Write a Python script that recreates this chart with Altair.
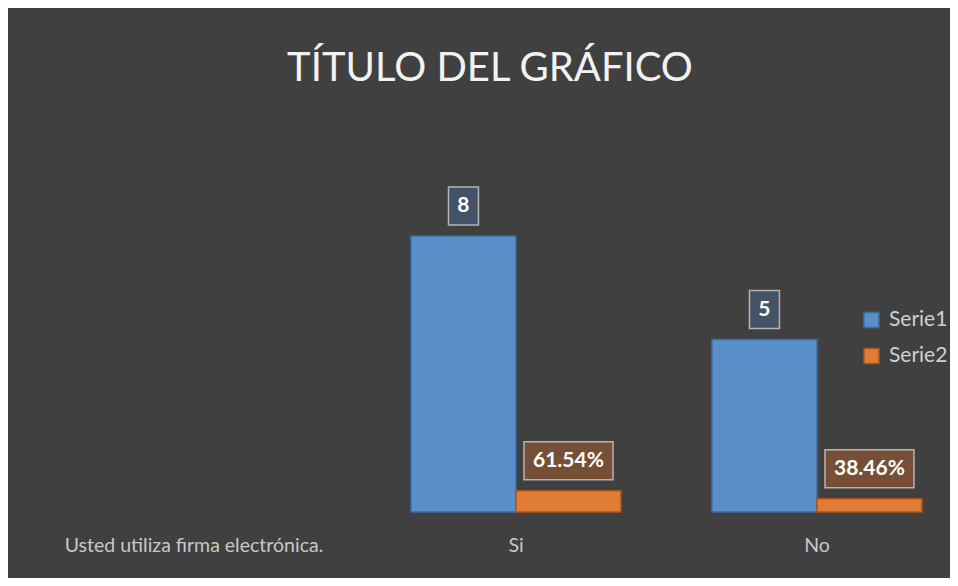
import altair as alt
import pandas as pd

categories = ["Usted utiliza firma electrónica.", "Si", "No"]
series_names = ["Serie1", "Serie2"]
serie1 = [8, 5]
serie2 = [0.6154, 0.3846]
answer_cats = ["Si", "No"]

rows = []
for c, v in zip(answer_cats, serie1):
    rows.append({"cat": c, "series": "Serie1", "value": v})
for c, v in zip(answer_cats, serie2):
    rows.append({"cat": c, "series": "Serie2", "value": v})
df = pd.DataFrame(rows)

FONT = "Lato"
fills = ["#5b8fc9", "#e07c36"]
strokes = ["#3b6d9f", "#a9561e"]

x = alt.X("cat:N", sort=categories,
          scale=alt.Scale(domain=categories, paddingInner=0.3023, paddingOuter=0.1628, align=0.918),
          axis=alt.Axis(title=None, domain=False, ticks=False, labelAngle=0,
                        labelFont=FONT, labelFontSize=19.5, labelColor="#c8c8c8",
                        labelPadding=24, labelLimit=400,
                        labelOffset={"condition": {"test": "datum.value == 'Usted utiliza firma electrónica.'", "value": -21}, "value": 0}))
y = alt.Y("value:Q", scale=alt.Scale(domain=[0, 9]), axis=None)
xo = alt.XOffset("series:N", sort=series_names, scale=alt.Scale(paddingInner=0, paddingOuter=0))

base = alt.Chart(df).encode(x=x, y=y, xOffset=xo)

bars = base.mark_bar(strokeWidth=1.5).encode(
    color=alt.Color("series:N", scale=alt.Scale(domain=series_names, range=fills),
                    legend=alt.Legend(title=None, orient="none", legendX=841, legendY=108,
                                      symbolType="square", symbolSize=225, symbolStrokeWidth=1.5,
                                      labelFont=FONT, labelFontSize=21, labelColor="#d0d0d0",
                                      labelOffset=7, rowPadding=14)),
    stroke=alt.Stroke("series:N", scale=alt.Scale(domain=series_names, range=strokes), legend=None),
)

box1 = base.transform_filter("datum.series == 'Serie1'").mark_point(
    shape="M-0.789,-1H0.789V1H-0.789Z", size=1444, filled=True, fill="#435266",
    stroke="#b4b4b4", strokeWidth=1.5, opacity=1, yOffset=-30)
box2 = base.transform_filter("datum.series == 'Serie2'").mark_point(
    shape="M-1,-0.427H1V0.427H-1Z", size=7921, filled=True, fill="#765036",
    stroke="#b4b4b4", strokeWidth=1.5, opacity=1, yOffset=-30)

labels = base.transform_calculate(
    lab="datum.series == 'Serie1' ? format(datum.value, 'd') : format(datum.value, '.2%')"
).mark_text(font=FONT, fontSize=21, fontWeight="bold", color="#ffffff",
            baseline="middle", align="center", yOffset=-30).encode(text="lab:N")

chart = alt.layer(bars, box1, box2, labels).properties(
    width=910, height=310.5,
    title=alt.TitleParams("TÍTULO DEL GRÁFICO", font=FONT, fontSize=40, fontWeight="normal",
                          color="#f2f2f2", anchor="middle", offset=95, dx=15),
    autosize=alt.AutoSizeParams(type="none"),
    padding={"left": 12, "top": 193.5, "right": 20, "bottom": 66},
    background="#404040",
).configure_view(stroke=None)

chart.save("out.html", embed_options={"renderer": "svg", "actions": False})
